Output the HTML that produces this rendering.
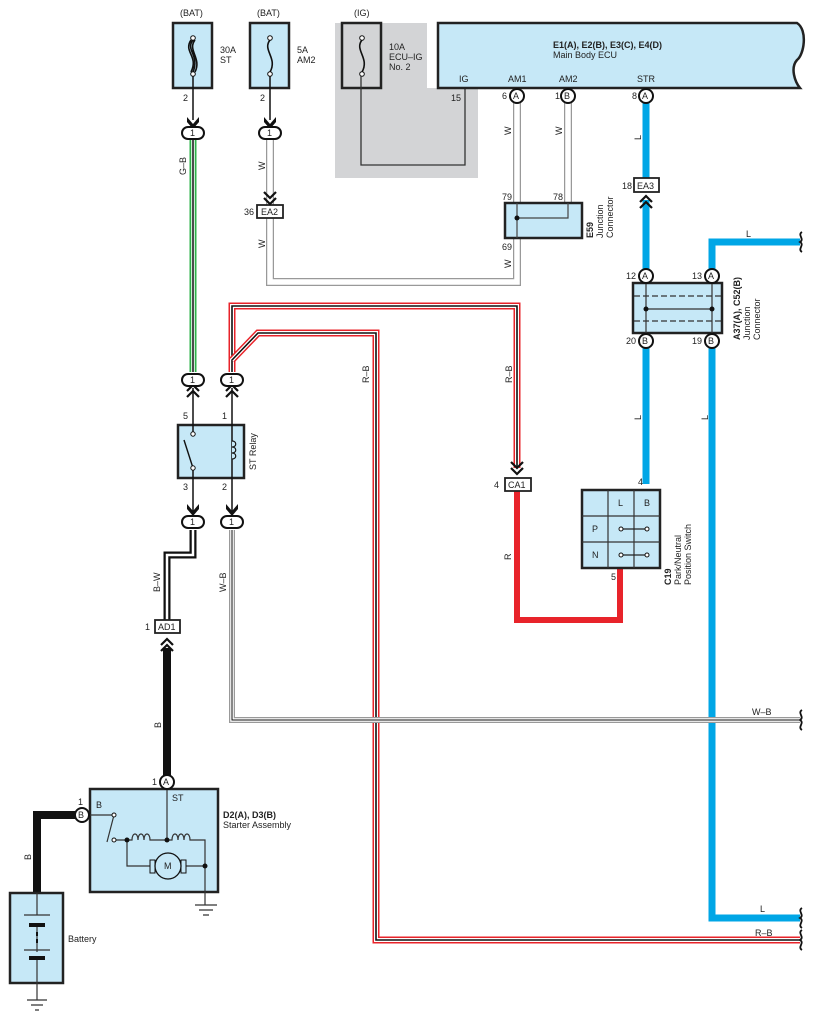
<!DOCTYPE html>
<html><head><meta charset="utf-8"><style>
html,body{margin:0;padding:0;background:#fff}
svg{display:block}
text{font-family:"Liberation Sans",sans-serif;font-size:9px;fill:#222}
.b{font-weight:bold}
</style></head><body>
<svg width="815" height="1020" viewBox="0 0 815 1020" xmlns="http://www.w3.org/2000/svg">
<defs>
<g id="arr"><path d="M-6,-6 L0,1 L6,-6 L6,-1 L0,6 L-6,-1Z" fill="#111"/></g>
<g id="dbl"><path d="M-6,-7 L0,-1 L6,-7 M-6,-1 L0,5 L6,-1" fill="none" stroke="#111" stroke-width="2.2"/></g>
<g id="dblu"><path d="M-6,7 L0,1 L6,7 M-6,1 L0,-5 L6,1" fill="none" stroke="#111" stroke-width="2.2"/></g>
</defs>

<!-- grey IG region -->
<path d="M335,23 H427 V88 H478 V178 H335Z" fill="#d3d4d6"/>

<!-- fuse boxes -->
<rect x="173" y="23" width="39" height="65" fill="#c6e8f7" stroke="#222" stroke-width="2.5"/>
<rect x="250" y="23" width="39" height="65" fill="#c6e8f7" stroke="#222" stroke-width="2.5"/>
<rect x="342" y="23" width="39" height="65" fill="#d3d4d6" stroke="#222" stroke-width="2.5"/>
<text x="180" y="16">(BAT)</text><text x="257" y="16">(BAT)</text><text x="354" y="16">(IG)</text>
<text x="220" y="53">30A</text><text x="220" y="63">ST</text>
<text x="297" y="53">5A</text><text x="297" y="63">AM2</text>
<text x="389" y="50">10A</text><text x="389" y="60">ECU–IG</text><text x="389" y="70">No. 2</text>
<path d="M193,40 C185,50 200,55 193,72 M191,40 C183,52 199,56 191,72 M195,40 C187,50 202,58 195,72" fill="none" stroke="#111" stroke-width="1.6"/>
<path d="M270,40 C262,50 278,58 270,72" fill="none" stroke="#111" stroke-width="1.6"/>
<path d="M362,40 C354,50 370,58 362,72" fill="none" stroke="#111" stroke-width="1.6"/>
<circle cx="193" cy="38" r="2.3" fill="#fff" stroke="#111"/><circle cx="193" cy="74" r="2.3" fill="#fff" stroke="#111"/>
<circle cx="270" cy="38" r="2.3" fill="#fff" stroke="#111"/><circle cx="270" cy="74" r="2.3" fill="#fff" stroke="#111"/>
<circle cx="362" cy="38" r="2.3" fill="#fff" stroke="#111"/><circle cx="362" cy="74" r="2.3" fill="#fff" stroke="#111"/>
<line x1="193" y1="76" x2="193" y2="120" stroke="#111" stroke-width="1.5"/>
<line x1="270" y1="76" x2="270" y2="120" stroke="#111" stroke-width="1.5"/>
<text x="183" y="101">2</text><text x="260" y="101">2</text>
<path d="M361,76 V165 H465 V88" fill="none" stroke="#333" stroke-width="1.3"/>
<text x="451" y="101">15</text>

<!-- ECU -->
<path d="M438,23 H797 C808,30 804,55 797,60 C790,68 795,82 800,88 H438Z" fill="#c6e8f7" stroke="#222" stroke-width="2.5"/>
<text x="553" y="48" class="b">E1(A), E2(B), E3(C), E4(D)</text>
<text x="553" y="58">Main Body ECU</text>
<text x="459" y="82">IG</text><text x="508" y="82">AM1</text><text x="559" y="82">AM2</text><text x="637" y="82">STR</text>

<!-- W wires -->
<g fill="none" stroke-linejoin="miter">
<path d="M270,140 V282 H517 V103" stroke="#999" stroke-width="8"/>
<path d="M270,140 V282 H517 V103" stroke="#fff" stroke-width="5.5"/>
<path d="M568,103 V203" stroke="#999" stroke-width="8"/><path d="M568,103 V203" stroke="#fff" stroke-width="5.5"/>
</g>
<rect x="505" y="203" width="77" height="35" fill="#c6e8f7" stroke="#222" stroke-width="2.5"/>
<path d="M517,203 V238 M568,203 V218 H517" fill="none" stroke="#444" stroke-width="1.2"/>
<circle cx="517" cy="218" r="2.5" fill="#111"/>
<text x="502" y="200">79</text><text x="553" y="200">78</text><text x="502" y="250">69</text>
<g transform="translate(593,238) rotate(-90)"><text x="0" y="0" class="b">E59</text><text x="0" y="10">Junction</text><text x="0" y="20">Connector</text></g>
<rect x="257" y="205" width="26" height="13" fill="#fff" stroke="#222" stroke-width="1.8"/>
<text x="261" y="215">EA2</text><text x="244" y="215">36</text>
<use href="#dbl" x="270" y="199"/>
<g transform="rotate(-90)"><text x="-170" y="265">W</text><text x="-248" y="265">W</text><text x="-135" y="511">W</text><text x="-135" y="562">W</text><text x="-268" y="511">W</text></g>

<!-- G-B wire -->
<path d="M193,140 V372" stroke="#2db34a" stroke-width="7"/>
<path d="M193,140 V372" stroke="#fff" stroke-width="3.5"/>
<path d="M193,140 V372" stroke="#111" stroke-width="1.5"/>
<text transform="translate(186,175) rotate(-90)">G–B</text>

<!-- R-B wires -->
<g fill="none">
<path d="M232,372 V306 H517 V468" stroke="#e8232a" stroke-width="7"/>
<path d="M232,372 V306 H517 V468" stroke="#fff" stroke-width="4"/>
<path d="M232,372 V306 H517 V468" stroke="#111" stroke-width="1.6"/>
<path d="M232,360 L258,333 H376 V940 H800" stroke="#e8232a" stroke-width="7"/>
<path d="M232,360 L258,333 H376 V940 H800" stroke="#fff" stroke-width="4"/>
<path d="M232,360 L258,333 H376 V940 H800" stroke="#111" stroke-width="1.6"/>
</g>
<text transform="translate(369,383) rotate(-90)">R–B</text>
<text transform="translate(512,383) rotate(-90)">R–B</text>
<text x="755" y="936">R–B</text>

<!-- CA1 and red R -->
<path d="M517,491 V620 H620 V568" fill="none" stroke="#e8232a" stroke-width="6"/>
<use href="#dbl" x="517" y="469"/>
<rect x="505" y="478" width="26" height="13" fill="#fff" stroke="#222" stroke-width="1.8"/>
<text x="508" y="488">CA1</text><text x="494" y="488">4</text>
<text transform="translate(511,560) rotate(-90)">R</text>

<!-- blue wires -->
<g fill="none" stroke="#00a6e6" stroke-width="7">
<path d="M646,103 V178"/><path d="M646,200 V270"/>
<path d="M712,270 V242 H800"/>
<path d="M646,347 V484"/>
<path d="M712,347 V918 H800"/>
</g>
<rect x="634" y="178" width="25" height="14" fill="#fff" stroke="#222" stroke-width="1.8"/>
<text x="637" y="189">EA3</text><text x="622" y="189">18</text>
<use href="#dblu" x="646" y="201"/>
<text transform="translate(641,140) rotate(-90)">L</text>
<text transform="translate(641,420) rotate(-90)">L</text>
<text transform="translate(708,420) rotate(-90)">L</text>
<text x="746" y="237">L</text><text x="760" y="912">L</text>

<!-- A37 junction -->
<rect x="633" y="283" width="89" height="50" fill="#c6e8f7" stroke="#222" stroke-width="2.5"/>
<path d="M634,296 H721 M634,321 H721" stroke="#333" stroke-width="1.3" stroke-dasharray="6,3"/>
<path d="M646,283 V333 M712,283 V333 M646,309 H712" stroke="#333" stroke-width="1.2"/>
<circle cx="646" cy="309" r="2.5" fill="#111"/><circle cx="712" cy="309" r="2.5" fill="#111"/>
<g transform="translate(740,340) rotate(-90)"><text x="0" y="0" class="b">A37(A), C52(B)</text><text x="0" y="10">Junction</text><text x="0" y="20">Connector</text></g>

<!-- C19 -->
<rect x="582" y="490" width="78" height="78" fill="#c6e8f7" stroke="#222" stroke-width="2.5"/>
<path d="M608,490 V568 M634,490 V568 M582,516 H660 M582,542 H660" stroke="#333" stroke-width="1.2"/>
<text x="618" y="506">L</text><text x="644" y="506">B</text><text x="592" y="532">P</text><text x="592" y="558">N</text>
<path d="M621,529 H647 M621,555 H647" stroke="#222" stroke-width="1.2"/>
<g fill="#fff" stroke="#111"><circle cx="621" cy="529" r="2"/><circle cx="647" cy="529" r="2"/><circle cx="621" cy="555" r="2"/><circle cx="647" cy="555" r="2"/></g>
<text x="638" y="485">4</text><text x="611" y="580">5</text>
<g transform="translate(671,585) rotate(-90)"><text x="0" y="0" class="b">C19</text><text x="0" y="10">Park/Neutral</text><text x="0" y="20">Position Switch</text></g>

<!-- relay -->
<rect x="178" y="425" width="66" height="53" fill="#c6e8f7" stroke="#222" stroke-width="2.5"/>
<path d="M193,388 V434 M193,468 V514 M232,388 V514" stroke="#111" stroke-width="1.5"/>
<path d="M193,468 L184,440" stroke="#111" stroke-width="1.4"/>
<circle cx="193" cy="434" r="2.2" fill="#fff" stroke="#111"/><circle cx="193" cy="468" r="2.2" fill="#fff" stroke="#111"/>
<path d="M232,441 c5,0 5,6 0,6 c5,0 5,6 0,6 c5,0 5,6 0,6" fill="#c6e8f7" stroke="#111" stroke-width="1.2"/>
<text x="183" y="419">5</text><text x="222" y="419">1</text><text x="183" y="490">3</text><text x="222" y="490">2</text>
<text transform="translate(256,470) rotate(-90)">ST Relay</text>

<!-- B-W -->
<path d="M193,530 V555 H167 V620" fill="none" stroke="#111" stroke-width="7"/>
<path d="M193,530 V555 H167 V620" fill="none" stroke="#fff" stroke-width="2.5"/>
<text transform="translate(160,592) rotate(-90)">B–W</text>
<!-- W-B -->
<path d="M232,530 V720 H800" fill="none" stroke="#999" stroke-width="6"/>
<path d="M232,530 V720 H800" fill="none" stroke="#fff" stroke-width="3.5"/>
<path d="M232,530 V720 H800" fill="none" stroke="#111" stroke-width="1"/>
<text transform="translate(226,592) rotate(-90)">W–B</text>
<text x="752" y="715">W–B</text>

<rect x="155" y="620" width="25" height="13" fill="#fff" stroke="#222" stroke-width="1.8"/>
<text x="158" y="630">AD1</text><text x="145" y="630">1</text>
<use href="#dblu" x="167" y="644"/>
<path d="M167,648 V776" stroke="#111" stroke-width="8"/>
<text transform="translate(161,728) rotate(-90)">B</text>

<!-- ovals "1" with arrows -->
<g>
<use href="#arr" x="193" y="123"/><use href="#arr" x="270" y="123"/>
<use href="#dblu" x="193" y="390"/><use href="#dblu" x="232" y="390"/>
<use href="#arr" x="193" y="510"/><use href="#arr" x="232" y="510"/>
</g>
<g fill="#fff" stroke="#111" stroke-width="2">
<rect x="182" y="127" width="22" height="12" rx="6"/><rect x="259" y="127" width="22" height="12" rx="6"/>
<rect x="182" y="374" width="22" height="12" rx="6"/><rect x="221" y="374" width="22" height="12" rx="6"/>
<rect x="182" y="516" width="22" height="12" rx="6"/><rect x="221" y="516" width="22" height="12" rx="6"/>
</g>
<g font-size="8"><text x="190" y="136">1</text><text x="267" y="136">1</text><text x="190" y="383">1</text><text x="229" y="383">1</text><text x="190" y="525">1</text><text x="229" y="525">1</text></g>

<!-- starter -->
<rect x="90" y="789" width="128" height="103" fill="#c6e8f7" stroke="#222" stroke-width="2.5"/>
<path d="M82,815 H37 V893" fill="none" stroke="#111" stroke-width="8"/>
<text transform="translate(31,860) rotate(-90)">B</text>
<g fill="none" stroke="#333" stroke-width="1.2">
<path d="M167,789 V840"/>
<path d="M90,815 H114 L107,842"/>
<path d="M116,840 H132 c0,-8 6,-8 6,0 c0,-8 6,-8 6,0 c0,-8 6,-8 6,0 H167 H172 c0,-8 6,-8 6,0 c0,-8 6,-8 6,0 c0,-8 6,-8 6,0 H205 V905"/>
<path d="M127,840 V866 H150 M186,866 H205"/>
<path d="M195,905 H217 M199,910 H213 M203,915 H209"/>
</g>
<circle cx="114" cy="815" r="2" fill="#fff" stroke="#111"/><circle cx="114" cy="840" r="2" fill="#fff" stroke="#111"/>
<circle cx="127" cy="840" r="2.5" fill="#111"/><circle cx="167" cy="840" r="2.5" fill="#111"/><circle cx="205" cy="866" r="2.5" fill="#111"/>
<rect x="150" y="860" width="5" height="13" fill="#c6e8f7" stroke="#111"/><rect x="181" y="860" width="5" height="13" fill="#c6e8f7" stroke="#111"/>
<circle cx="168" cy="866" r="13" fill="#c6e8f7" stroke="#111" stroke-width="1.3"/>
<text x="164" y="869">M</text>
<text x="96" y="808">B</text><text x="172" y="801">ST</text>
<text x="223" y="818" class="b">D2(A), D3(B)</text><text x="223" y="828">Starter Assembly</text>
<g fill="#fff" stroke="#111" stroke-width="2"><circle cx="167" cy="782" r="7"/><circle cx="82" cy="815" r="7"/></g>
<text x="163" y="785" font-size="8">A</text><text x="78" y="818" font-size="8">B</text>
<text x="152" y="785">1</text><text x="78" y="805">1</text>

<!-- battery -->
<rect x="10" y="893" width="53" height="90" fill="#c6e8f7" stroke="#222" stroke-width="2.5"/>
<g stroke="#333" stroke-width="1.2" fill="none">
<path d="M37,893 V915 M24,915 H50 M37,925 V952 M24,950 H50 M37,956 V1000 M27,1000 H47 M31,1005 H43 M35,1010 H39"/>
</g>
<rect x="29" y="923" width="16" height="4" fill="#111"/><rect x="29" y="956" width="16" height="4" fill="#111"/>
<path d="M37,932 V945" stroke="#111" stroke-width="2" stroke-dasharray="4,3"/>
<text x="68" y="942">Battery</text>

<!-- ECU pins -->
<g fill="#fff" stroke="#111" stroke-width="2"><circle cx="517" cy="96" r="7"/><circle cx="568" cy="96" r="7"/><circle cx="646" cy="96" r="7"/>
<circle cx="646" cy="276" r="7"/><circle cx="712" cy="276" r="7"/><circle cx="646" cy="341" r="7"/><circle cx="712" cy="341" r="7"/></g>
<g font-size="8"><text x="513" y="99">A</text><text x="564" y="99">B</text><text x="642" y="99">A</text>
<text x="642" y="279">A</text><text x="708" y="279">A</text><text x="642" y="344">B</text><text x="708" y="344">B</text></g>
<text x="502" y="99">6</text><text x="555" y="99">1</text><text x="632" y="99">8</text>
<text x="626" y="279">12</text><text x="692" y="279">13</text><text x="626" y="344">20</text><text x="692" y="344">19</text>

<!-- break marks -->
<g fill="none" stroke="#111" stroke-width="1.8">
<path d="M802,232 c-5,3 3,7 -2,10 c5,3 -3,7 2,10"/>
<path d="M802,710 c-5,3 3,7 -2,10 c5,3 -3,7 2,10"/>
<path d="M802,908 c-5,3 3,7 -2,10 c5,3 -3,7 2,10"/>
<path d="M802,930 c-5,3 3,7 -2,10 c5,3 -3,7 2,10"/>
</g>
</svg>
</body></html>
